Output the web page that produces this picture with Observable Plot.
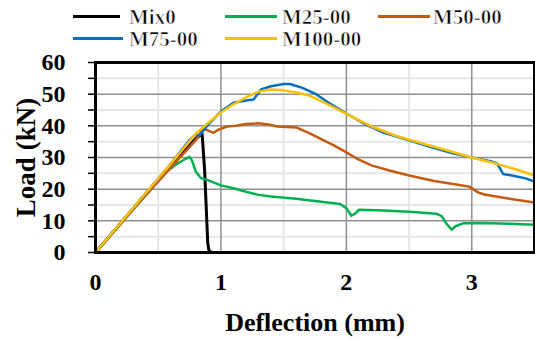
<!DOCTYPE html>
<html>
<head>
<meta charset="utf-8">
<script src="https://cdn.jsdelivr.net/npm/d3@7"></script>
<script src="https://cdn.jsdelivr.net/npm/@observablehq/plot@0.6"></script>
<style>
  body { margin: 0; background: #fff; }
  #wrap { position: relative; width: 535px; height: 340px; overflow: hidden; }
  #legend { position: relative; width: 535px; height: 50px; font-family: 'Liberation Serif'; font-weight: bold; font-size: 21px; color: #000; -webkit-text-stroke: 0.7px #fff; }
  .sw { position: absolute; height: 3px; }
  .lt { position: absolute; height: 22px; line-height: 22px; white-space: nowrap; }
  svg { display: block; }
</style>
</head>
<body>
<div id="wrap">
  <div id="legend"></div>
  <div id="chart"></div>
</div>
<script>
// ---- data ----
const seriesNames = ["Mix0", "M25-00", "M50-00", "M75-00", "M100-00"];
const seriesColors = ["#000000", "#00b050", "#c55a11", "#0070c0", "#ffc000"];

const mix0 = [[0,0],[0.2,9.2],[0.4,18.5],[0.6,27.5],[0.8,36],[0.85,37.5],[0.87,26],[0.895,3],[0.905,0.5],[0.93,0]];
const m25 = [[0,0],[0.2,9.2],[0.4,18.5],[0.55,25],[0.65,28],[0.72,29.6],[0.75,30.2],[0.77,29],[0.8,25.5],[0.84,23.5],[0.9,22.8],[1.0,21.2],[1.1,20.3],[1.2,19.2],[1.3,18.2],[1.4,17.7],[1.6,17],[1.8,16],[1.95,15.3],[2.0,14],[2.04,11.6],[2.07,12.3],[2.1,13.5],[2.3,13.3],[2.5,12.9],[2.72,12.2],[2.76,11.5],[2.8,9],[2.84,7.2],[2.87,8.3],[2.93,9.2],[3.1,9.3],[3.3,9.1],[3.5,8.8]];
const m50 = [[0,0],[0.2,9],[0.4,18],[0.6,26.8],[0.8,35.5],[0.86,39.2],[0.9,38.5],[0.94,37.8],[0.98,38.8],[1.05,39.8],[1.12,40],[1.2,40.6],[1.3,40.8],[1.38,40.4],[1.45,39.8],[1.6,39.5],[1.7,37.8],[1.8,35.8],[1.9,33.8],[2.0,31.6],[2.1,29.3],[2.2,27.5],[2.35,25.8],[2.5,24.3],[2.7,22.6],[2.9,21.3],[2.98,20.8],[3.05,19],[3.1,18.3],[3.3,17],[3.5,15.8]];
const m75 = [[0,0],[0.2,9.3],[0.4,18.6],[0.6,28],[0.75,35.5],[0.79,37],[0.83,37],[0.9,40.5],[1.0,44.5],[1.1,47.3],[1.2,48],[1.26,48.3],[1.32,51.5],[1.4,52.5],[1.5,53.2],[1.55,53.2],[1.65,52],[1.75,50.2],[1.85,47.5],[2.0,43.9],[2.15,40.5],[2.3,37.8],[2.5,35.4],[2.7,33],[2.85,31.3],[3.0,30],[3.15,28.8],[3.2,28.2],[3.25,24.8],[3.32,24.3],[3.43,23.4],[3.5,22.4]];
const m100 = [[0,0],[0.2,9.3],[0.4,18.7],[0.6,28],[0.8,37.5],[0.9,41],[1.0,44.2],[1.1,46.8],[1.2,49],[1.3,50.8],[1.4,51.5],[1.5,51.2],[1.6,50.5],[1.7,49.6],[1.8,47.8],[1.9,45.8],[2.0,43.8],[2.2,39.8],[2.4,36.8],[2.6,34.5],[2.8,32.3],[3.0,30],[3.2,28],[3.35,26.3],[3.5,24.3]];
const seriesData = [mix0, m25, m50, m75, m100];

const xTicks = [0, 1, 2, 3];
const xMinor = [0.5, 1.5, 2.5];
const yTicks = [0, 10, 20, 30, 40, 50, 60];
const yMajorGrid = [10, 20, 30, 40, 50];
const yMinor = [5, 15, 25, 35, 45, 55];
const yAllTicks = [0, 5, 10, 15, 20, 25, 30, 35, 40, 45, 50, 55, 60];

// ---- legend (HTML, above the SVG) ----
const legendLayout = [
  {x1: 73, x2: 120, tx: 129, row: 0},
  {x1: 225, x2: 277, tx: 282, row: 0},
  {x1: 378, x2: 430, tx: 433, row: 0},
  {x1: 73, x2: 123, tx: 129, row: 1},
  {x1: 225, x2: 277, tx: 282, row: 1}
];
const rowCenter = [16.5, 38.5];
const legend = document.getElementById("legend");
seriesNames.forEach((name, i) => {
  const L = legendLayout[i];
  const sw = document.createElement("div");
  sw.className = "sw";
  sw.style.left = L.x1 + "px";
  sw.style.width = (L.x2 - L.x1) + "px";
  sw.style.top = (rowCenter[L.row] - 1.5) + "px";
  sw.style.background = seriesColors[i];
  legend.appendChild(sw);
  const tx = document.createElement("div");
  tx.className = "lt";
  tx.style.left = L.tx + "px";
  tx.style.top = (rowCenter[L.row] - 11) + "px";
  tx.textContent = name;
  legend.appendChild(tx);
});

// ---- chart ----
const rows = seriesData.flatMap((arr, i) => arr.map(([x, y]) => ({series: seriesNames[i], x, y})));
const font = "'Liberation Serif'";

const chart = Plot.plot({
  width: 535,
  height: 290,
  marginTop: 12,
  marginBottom: 88,
  marginLeft: 95,
  marginRight: 1,
  style: {fontFamily: font, background: "white", overflow: "visible"},
  x: {domain: [0, 3.5], axis: null},
  y: {domain: [0, 60], axis: null},
  color: {domain: seriesNames, range: seriesColors},
  marks: [
    Plot.gridX(xMinor, {stroke: "#e6e6e6", strokeWidth: 2, strokeOpacity: 1}),
    Plot.gridY(yMinor, {stroke: "#e6e6e6", strokeWidth: 2, strokeOpacity: 1}),
    Plot.gridX(xTicks.filter(d => d > 0), {stroke: "#8f8f8f", strokeWidth: 1.5, strokeOpacity: 1}),
    Plot.gridY(yMajorGrid, {stroke: "#8f8f8f", strokeWidth: 1.5, strokeOpacity: 1}),
    Plot.line(rows, {x: "x", y: "y", z: "series", stroke: "series", strokeWidth: d => d.series === "Mix0" ? 3 : 2.5, strokeLinejoin: "round"}),
    Plot.frame({stroke: "black", strokeWidth: 3}),
    Plot.axisY(yAllTicks, {tickSize: 7, tickFormat: () => "", stroke: "black", strokeWidth: 1.5, label: null}),
    Plot.text(yTicks, {y: d => d, frameAnchor: "left", dx: -30, textAnchor: "end", lineAnchor: "middle", fontSize: 24, fontWeight: "bold", fontFamily: font, fill: "black"}),
    Plot.text(xTicks, {x: d => d, frameAnchor: "bottom", dy: 30, textAnchor: "middle", lineAnchor: "middle", fontSize: 24, fontWeight: "bold", fontFamily: font, fill: "black"}),
    Plot.text(["Deflection (mm)"], {frameAnchor: "bottom", dy: 70, textAnchor: "middle", lineAnchor: "middle", fontSize: 26, fontWeight: "bold", fontFamily: font, fill: "black"}),
    Plot.text(["Load (kN)"], {frameAnchor: "left", dx: -69, dy: 0, rotate: -90, textAnchor: "middle", lineAnchor: "middle", fontSize: 27, fontWeight: "bold", fontFamily: font, fill: "black"})
  ]
});
document.getElementById("chart").appendChild(chart);
</script>
</body>
</html>
